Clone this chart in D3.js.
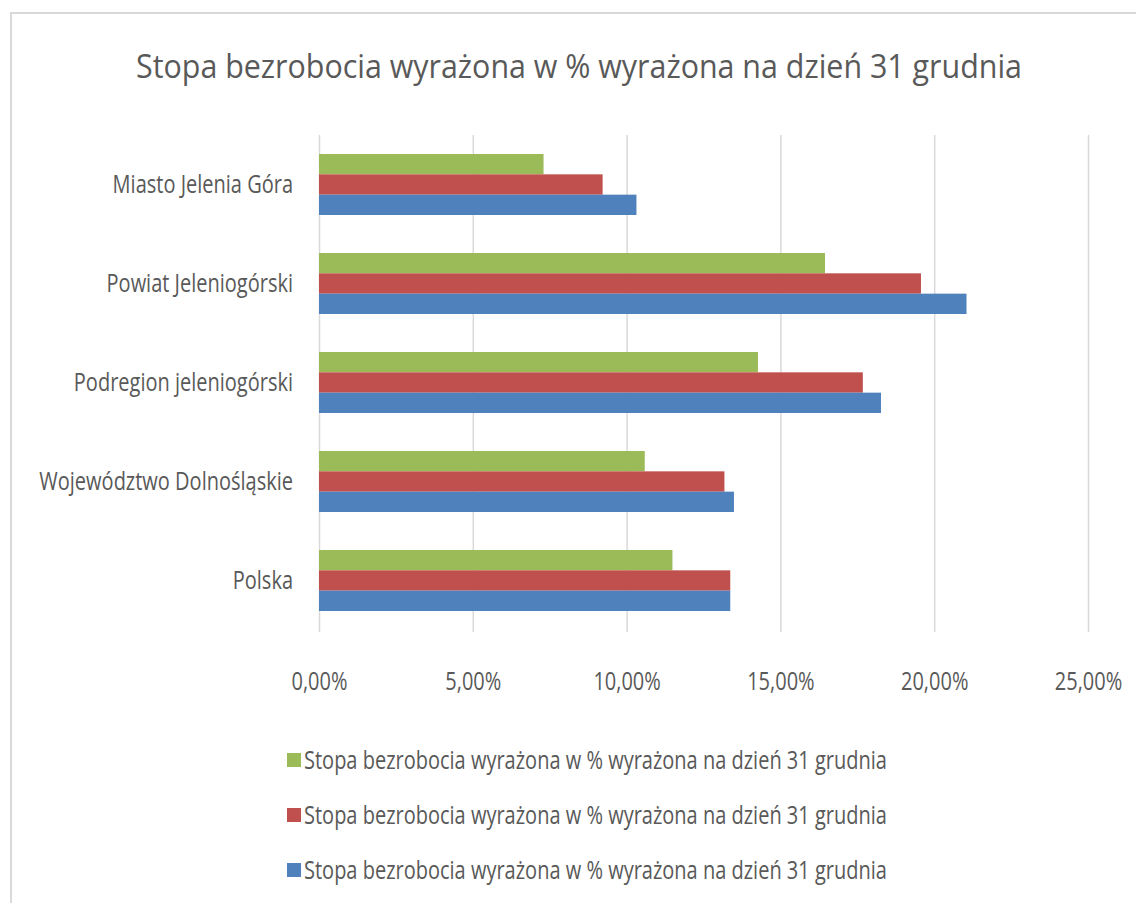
<!DOCTYPE html>
<html>
<head>
<meta charset="utf-8">
<script src="https://cdn.jsdelivr.net/npm/d3@7"></script>
<style>
  body { margin: 0; background: #fff; }
  text { font-family: "Open Sans", sans-serif; fill: #595959; }
</style>
</head>
<body>
<div id="chart"></div>
<script>
"use strict";

// data (percent)
var categories = ["Miasto Jelenia Góra", "Powiat Jeleniogórski", "Podregion jeleniogórski",
                  "Województwo Dolnośląskie", "Polska"];
var seriesGreen = [7.30, 16.45, 14.27, 10.59, 11.49];
var seriesRed   = [9.22, 19.57, 17.68, 13.18, 13.37];
var seriesBlue  = [10.32, 21.05, 18.27, 13.49, 13.37];
var seriesName = "Stopa bezrobocia wyrażona w % wyrażona na dzień 31 grudnia";
var tickValues = [0, 5, 10, 15, 20, 25];
var title = "Stopa bezrobocia wyrażona w % wyrażona na dzień 31 grudnia";

var series = [
    {key: "g", name: seriesName, values: seriesGreen, color: "#9BBB59"},
    {key: "r", name: seriesName, values: seriesRed,   color: "#C0504D"},
    {key: "b", name: seriesName, values: seriesBlue,  color: "#4F81BD"}
];

var W = 1136, H = 903;

var svg = d3.select("#chart").append("svg")
    .attr("width", W).attr("height", H);

svg.append("rect").attr("width", W).attr("height", H).attr("fill", "#fff");

// chart frame
svg.append("rect")
    .attr("x", 11).attr("y", 13)
    .attr("width", W + 20).attr("height", H + 20)
    .attr("fill", "none").attr("stroke", "#d9d9d9").attr("stroke-width", 2);

// narrow the text horizontally, like the original
function squeeze(k) {
    return function(sel) {
        sel.each(function() {
            var len = this.getComputedTextLength();
            d3.select(this).attr("textLength", len * k).attr("lengthAdjust", "spacingAndGlyphs");
        });
    };
}

// title
svg.append("text")
    .attr("x", 579).attr("y", 78)
    .attr("text-anchor", "middle")
    .style("font-size", "32px")
    .text(title)
    .call(squeeze(0.95));

// scales
var x = d3.scaleLinear().domain([0, 25]).range([319, 1088]);
var y = d3.scaleBand().domain(categories).range([135, 630])
    .paddingInner(0.384).paddingOuter(0.192);
var ySub = d3.scaleBand().domain(series.map(d => d.key)).range([0, y.bandwidth()]);

var pl = d3.formatLocale({decimal: ",", thousands: " ", grouping: [3], currency: ["", " zł"]});
var fmt = v => pl.format(".2f")(v) + "%";

// gridlines
svg.append("g")
    .attr("transform", "translate(0,632)")
    .call(d3.axisBottom(x).tickValues(tickValues).tickSize(-497).tickFormat(""))
    .call(g => g.select(".domain").remove())
    .call(g => g.selectAll("line").attr("stroke", "#d9d9d9").attr("stroke-width", 1.5));

// tick labels
svg.append("g")
    .attr("transform", "translate(0,690)")
    .call(d3.axisBottom(x).tickValues(tickValues).tickSize(0).tickPadding(0).tickFormat(fmt))
    .call(g => g.select(".domain").remove())
    .call(g => g.selectAll("text")
        .attr("y", 0).attr("dy", 0)
        .style("font-size", "25px").style("font-family", "Open Sans, sans-serif")
        .attr("fill", "#595959")
        .call(squeeze(0.8)));

// bars
var groups = svg.append("g").selectAll("g")
    .data(categories)
    .join("g")
    .attr("transform", d => "translate(0," + y(d) + ")");

groups.selectAll("rect")
    .data((c, i) => series.map(s => ({key: s.key, value: s.values[i], color: s.color})))
    .join("rect")
    .attr("x", x(0))
    .attr("y", d => ySub(d.key))
    .attr("width", d => x(d.value) - x(0))
    .attr("height", ySub.bandwidth())
    .attr("fill", d => d.color);

// category labels
svg.append("g")
    .attr("transform", "translate(293,0)")
    .call(d3.axisLeft(y).tickSize(0).tickPadding(0))
    .call(g => g.select(".domain").remove())
    .call(g => g.selectAll("text")
        .attr("x", 0).attr("dy", "0.35em")
        .style("font-size", "25px").style("font-family", "Open Sans, sans-serif")
        .attr("fill", "#595959")
        .call(squeeze(0.8)));

// legend
var legend = svg.append("g").selectAll("g")
    .data(series)
    .join("g")
    .attr("transform", (d, i) => "translate(287," + (760 + i * 55) + ")");

legend.append("rect")
    .attr("x", 0).attr("y", -7)
    .attr("width", 14).attr("height", 14)
    .attr("fill", d => d.color);

legend.append("text")
    .attr("x", 17).attr("dy", "0.35em")
    .style("font-size", "25px")
    .text(d => d.name)
    .call(squeeze(0.8));
</script>
</body>
</html>
